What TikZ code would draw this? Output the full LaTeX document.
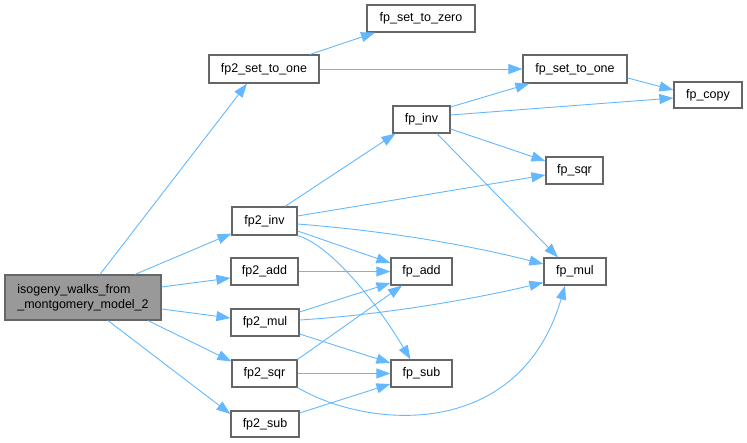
\documentclass[tikz,border=0pt]{standalone}
\usepackage{fontspec}
\setmainfont{Liberation Sans}
\usetikzlibrary{arrows.meta}
\definecolor{edgeblue}{HTML}{63B8FF}
\definecolor{nborder}{HTML}{666666}
\definecolor{mainfill}{HTML}{999999}
\tikzset{
  fn/.style={draw=nborder, line width=1.2pt, fill=white, inner sep=0pt, anchor=center,
    font=\fontsize{12.5}{15}\selectfont},
  mainfn/.style={fn, fill=mainfill, align=left},
  calls/.style={draw=edgeblue, line width=0.9pt, -{Triangle[length=14pt,width=10pt]}},
}
\begin{document}
\begin{tikzpicture}[x=1pt,y=-1pt]
\useasboundingbox (0,0) rectangle (747,443);
\node[mainfn, minimum width=156pt, minimum height=45pt] (main) at (83,297.5) {isogeny\_walks\_from\\\_montgomery\_model\_2};
\node[fn, minimum width=110pt, minimum height=28pt] (f2one) at (264,69) {fp2\_set\_to\_one};
\node[fn, minimum width=108pt, minimum height=27pt] (fzero) at (421,18.5) {fp\_set\_to\_zero};
\node[fn, minimum width=104pt, minimum height=28pt] (fone) at (575,69) {fp\_set\_to\_one};
\node[fn, minimum width=68pt, minimum height=26pt] (fcopy) at (708,95) {fp\_copy};
\node[fn, minimum width=57pt, minimum height=27pt] (finv) at (421.5,119.5) {fp\_inv};
\node[fn, minimum width=57pt, minimum height=27pt] (fsqr) at (574.5,170.5) {fp\_sqr};
\node[fn, minimum width=65pt, minimum height=28pt] (f2inv) at (264.5,221) {fp2\_inv};
\node[fn, minimum width=67pt, minimum height=27pt] (f2add) at (264.5,271.5) {fp2\_add};
\node[fn, minimum width=61pt, minimum height=27pt] (fadd) at (421.5,271.5) {fp\_add};
\node[fn, minimum width=62pt, minimum height=27pt] (fmul) at (575,271.5) {fp\_mul};
\node[fn, minimum width=68pt, minimum height=27pt] (f2mul) at (265,322.5) {fp2\_mul};
\node[fn, minimum width=65pt, minimum height=27pt] (f2sqr) at (264.5,373.5) {fp2\_sqr};
\node[fn, minimum width=61pt, minimum height=27pt] (fsub) at (421.5,373.5) {fp\_sub};
\node[fn, minimum width=68pt, minimum height=26pt] (f2sub) at (265,424) {fp2\_sub};

% from main
\draw[calls] ([xshift=17pt]main.north) -- ([xshift=-17pt]f2one.south);
\draw[calls] ([xshift=52pt]main.north) -- ([yshift=2pt]f2inv.south west);
\draw[calls] ([yshift=10.5pt]main.east) -- ([yshift=-6.5pt]f2add.west);
\draw[calls] ([yshift=-11.5pt]main.east) -- ([yshift=4.5pt]f2mul.west);
\draw[calls] ([xshift=65pt]main.south) -- ([yshift=-2pt]f2sqr.north west);
\draw[calls] ([xshift=25pt]main.south) -- ([yshift=10pt]f2sub.west);
% fp2_set_to_one
\draw[calls] ([xshift=46pt]f2one.north) -- ([xshift=-46pt]fzero.south);
\draw[calls] (f2one.east) -- (fone.west);
% fp_inv
\draw[calls] ([yshift=12.5pt]finv.east) -- ([xshift=7pt]fone.south west);
\draw[calls] ([yshift=4.5pt]finv.east) -- ([yshift=-3pt]fcopy.west);
\draw[calls] ([yshift=-9pt]fone.east) -- ([yshift=5pt]fcopy.west);
\draw[calls] ([yshift=-9.5pt]finv.east) -- ([yshift=9.5pt]fsqr.west);
\draw[calls] ([xshift=15.5pt]finv.south) -- ([xshift=-17pt]fmul.north);
% fp2_inv
\draw[calls] ([xshift=20.5pt]f2inv.north) -- ([xshift=3pt]finv.south west);
\draw[calls] ([yshift=5pt]f2inv.east) -- ([yshift=-4.5pt]fsqr.west);
\draw[calls] ([yshift=-3pt]f2inv.east) .. controls (400,232) and (480,248) .. ([yshift=7.5pt]fmul.west);
\draw[calls] ([yshift=-10pt]f2inv.east) -- ([yshift=8.5pt]fadd.west);
\draw[calls] (f2inv.south east) .. controls (330,245) and (375,300) .. ([xshift=-11pt]fsub.north);
% fp2_add
\draw[calls] (f2add.east) -- (fadd.west);
% fp2_mul
\draw[calls] ([yshift=10.5pt]f2mul.east) -- ([yshift=-11.5pt]fadd.west);
\draw[calls] ([yshift=2.5pt]f2mul.east) .. controls (380,315) and (470,300) .. ([yshift=-11pt]fmul.west);
\draw[calls] ([yshift=-11.5pt]f2mul.east) -- ([yshift=10.5pt]fsub.west);
% fp2_sqr
\draw[calls] (f2sqr.north east) -- ([xshift=-19.5pt]fadd.south);
\draw[calls] (f2sqr.east) -- (fsub.west);
\draw[calls] (f2sqr.south east) .. controls (370,430) and (520,440) .. ([xshift=-10pt]fmul.south);
% fp2_sub
\draw[calls] ([yshift=11pt]f2sub.east) -- ([yshift=-10.5pt]fsub.west);
\end{tikzpicture}
\end{document}
